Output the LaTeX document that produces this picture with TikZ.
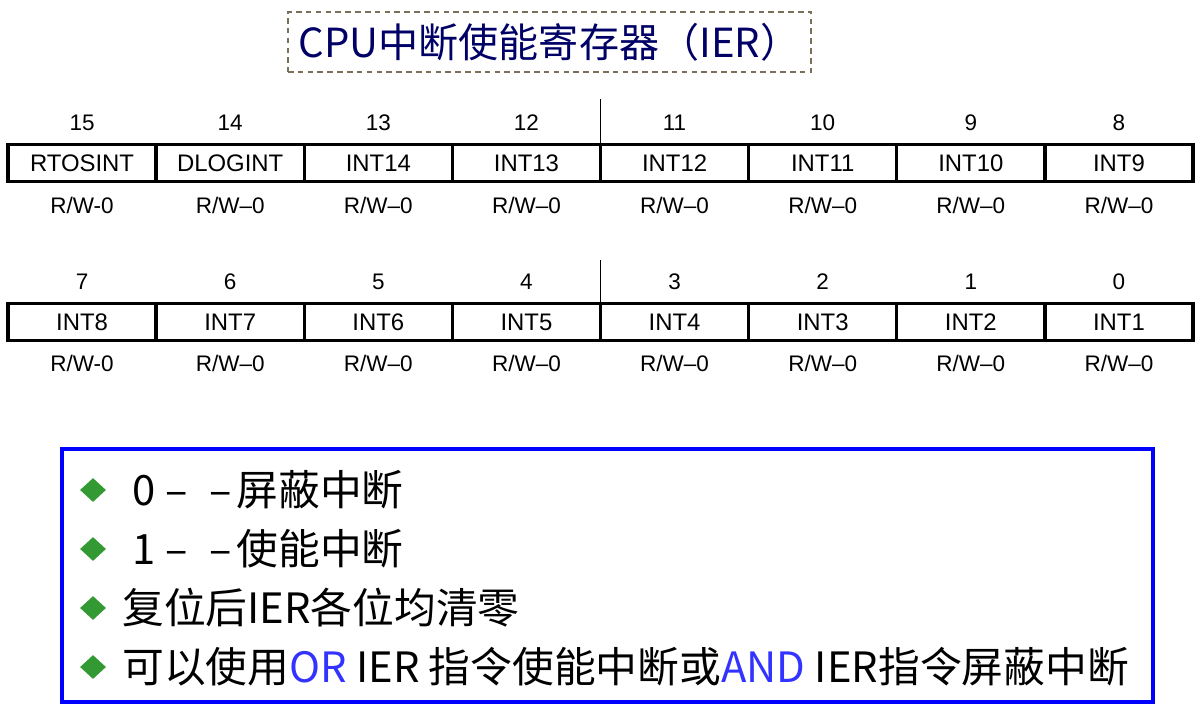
\documentclass[tikz,border=0pt]{standalone}
\usepackage{fontspec}
\setmainfont{Liberation Sans}
\newfontfamily\cjk{Noto Sans CJK SC}
\usepackage{tikz}
\usetikzlibrary{shapes.geometric}

\definecolor{titleblue}{HTML}{000066}
\definecolor{dashgray}{HTML}{7A705A}
\definecolor{noteblue}{HTML}{0000FF}
\definecolor{opblue}{HTML}{3333FF}
\definecolor{bulletgreen}{HTML}{339933}

\tikzset{
  regcell/.style={draw,line width=2.4pt,minimum width=3.703cm,minimum height=0.925cm,
    inner sep=0pt,outer sep=0pt,font=\fontsize{17}{17}\selectfont},
  bitnum/.style={inner sep=0pt,font=\fontsize{16}{16}\selectfont},
  access/.style={inner sep=0pt,font=\fontsize{16}{16}\selectfont},
  titlebox/.style={draw=dashgray,line width=1.4pt,dash pattern=on 4pt off 3pt,
    minimum width=13.075cm,minimum height=1.5cm,inner sep=0pt,
    text=titleblue,font=\cjk\fontsize{28.5}{28.5}\selectfont},
  notebox/.style={draw=noteblue,line width=2.9pt,minimum width=27.275cm,
    minimum height=6.325cm,inner sep=0pt},
  bulletmark/.style={diamond,fill=bulletgreen,inner sep=0pt,
    minimum width=0.65cm,minimum height=0.6cm},
  itemtext/.style={anchor=west,inner sep=0pt,font=\cjk\fontsize{29.7}{29.7}\selectfont}
}

\begin{document}
\begin{tikzpicture}[x=0.025cm,y=-0.025cm]
  \useasboundingbox (0,0) rectangle (1204,717);
  %\draw[thin,gray!40] (0,0) grid[step=100] (1204,717);
  \node[titlebox] (title) at (549.5,42) {CPU中断使能寄存器（IER）};

  % upper half of the register
  \foreach \name/\dash [count=\i from 0] in {RTOSINT/-,DLOGINT/--,INT14/--,INT13/--,
      INT12/--,INT11/--,INT10/--,INT9/--}{
    \pgfmathtruncatemacro{\bit}{15-\i}
    \node[regcell] (c\bit) at (82.06+148.125*\i,163) {\name};
    \node[bitnum] (n\bit) at (82.06+148.125*\i,123) {\bit};
    \node[access] (a\bit) at (82.06+148.125*\i,205) {R/W\dash0};
  }
  % lower half
  \foreach \name/\dash [count=\i from 0] in {INT8/-,INT7/--,INT6/--,INT5/--,
      INT4/--,INT3/--,INT2/--,INT1/--}{
    \pgfmathtruncatemacro{\bit}{7-\i}
    \node[regcell] (c\bit) at (82.06+148.125*\i,322) {\name};
    \node[bitnum] (n\bit) at (82.06+148.125*\i,282) {\bit};
    \node[access] (a\bit) at (82.06+148.125*\i,363) {R/W\dash0};
  }
  \draw[line width=0.8pt] (c12.north east) -- ++(0,-45);
  \draw[line width=0.8pt] (c4.north east) -- ++(0,-43);

  \node[notebox] (notes) at (607.5,575.5) {};
  \foreach \y [count=\k] in {490,549,608,667}
    \node[bulletmark] (b\k) at (93,\y) {};
  \node[itemtext] (t1) at (132,490) {0\hspace{0.25em}–\hspace{0.5em}–\hspace{0.12em}屏蔽中断};
  \node[itemtext] (t2) at (132,549) {1\hspace{0.25em}–\hspace{0.5em}–\hspace{0.12em}使能中断};
  \node[itemtext] (t3) at (122,608) {复位后IER各位均清零};
  \node[itemtext] (t4) at (122,667) {可以使用\textcolor{opblue}{OR} IER 指令使能中断或\textcolor{opblue}{AND} IER指令屏蔽中断};
\end{tikzpicture}
\end{document}
